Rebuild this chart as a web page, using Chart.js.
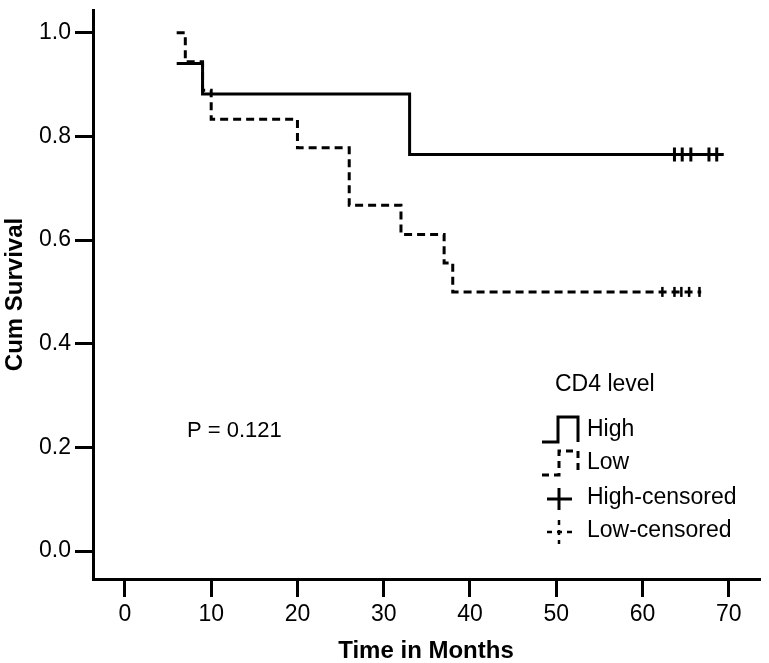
<!DOCTYPE html>
<html>
<head>
<meta charset="utf-8">
<script src="https://cdn.jsdelivr.net/npm/chart.js@4.4.1/dist/chart.umd.min.js"></script>
<style>
  html, body { margin: 0; padding: 0; background: #fff; }
  #contenedor { width: 769px; height: 663px; }
</style>
</head>
<body>
<div id="contenedor"><canvas id="graficoSupervivencia" width="769" height="663"></canvas></div>
<script>
// Curvas Kaplan-Meier por nivel de CD4
const tiemposAlto = [6, 9, 33, 69.2];
const supervivenciaAlto = [0.941, 0.882, 0.765, 0.765];
const tiemposBajo = [6, 7, 9, 10, 20, 26, 32, 37, 38, 66.8];
const supervivenciaBajo = [1.0, 0.944, 0.889, 0.833, 0.778, 0.667, 0.611, 0.556, 0.5, 0.5];

// Casos censurados
const censuradosAltoX = [63.7, 64.6, 65.6, 67.7, 68.6];
const censuradosAltoY = [0.765, 0.765, 0.765, 0.765, 0.765];
const censuradosBajoX = [62.3, 63.7, 64.5, 65.4, 66.6];
const censuradosBajoY = [0.5, 0.5, 0.5, 0.5, 0.5];

const ticksX = [0, 10, 20, 30, 40, 50, 60, 70];
const ticksY = [0, 0.2, 0.4, 0.6, 0.8, 1.0];

const tituloLeyenda = 'CD4 level';
const etiquetas = ['High', 'Low', 'High-censored', 'Low-censored'];
const textoP = 'P = 0.121';

const fuente = '"Liberation Sans", Arial, sans-serif';
Chart.defaults.font.family = fuente;
Chart.defaults.color = '#000';

const aPuntos = (xs, ys) => xs.map((x, i) => ({ x, y: ys[i] }));

const sinRelleno = (escala) => {
  escala.paddingTop = 0;
  escala.paddingBottom = 0;
  escala.paddingLeft = 0;
  escala.paddingRight = 0;
};

const leyendaPlugin = {
  id: 'leyendaKM',
  afterDraw(chart) {
    const ctx = chart.ctx;
    ctx.save();
    ctx.fillStyle = '#000';
    ctx.strokeStyle = '#000';
    ctx.textBaseline = 'middle';
    ctx.textAlign = 'left';

    ctx.font = '22px ' + fuente;
    ctx.fillText(textoP, 187, 431);

    ctx.font = '23px ' + fuente;
    ctx.fillText(tituloLeyenda, 555, 385);

    // High
    ctx.lineWidth = 3;
    ctx.setLineDash([]);
    ctx.beginPath();
    ctx.moveTo(542, 442);
    ctx.lineTo(558, 442);
    ctx.lineTo(558, 417);
    ctx.lineTo(578, 417);
    ctx.lineTo(578, 442);
    ctx.stroke();
    ctx.fillText(etiquetas[0], 587, 430);

    // Low
    ctx.setLineDash([7, 5]);
    ctx.beginPath();
    ctx.moveTo(542, 475);
    ctx.lineTo(559, 475);
    ctx.lineTo(559, 451);
    ctx.lineTo(578, 451);
    ctx.lineTo(578, 475);
    ctx.stroke();
    ctx.fillText(etiquetas[1], 587, 463);

    // High-censored
    ctx.setLineDash([]);
    ctx.beginPath();
    ctx.moveTo(547, 499);
    ctx.lineTo(572, 499);
    ctx.moveTo(559, 488);
    ctx.lineTo(559, 510);
    ctx.stroke();
    ctx.fillText(etiquetas[2], 587, 498);

    // Low-censored
    ctx.lineWidth = 2.5;
    ctx.setLineDash([5, 5]);
    ctx.beginPath();
    ctx.moveTo(547, 532);
    ctx.lineTo(572, 532);
    ctx.moveTo(559, 520);
    ctx.lineTo(559, 544);
    ctx.stroke();
    ctx.fillText(etiquetas[3], 587, 531);

    ctx.restore();
  }
};

const canvas = document.querySelector('#graficoSupervivencia');

new Chart(canvas, {
  type: 'scatter',
  data: {
    datasets: [
      {
        label: etiquetas[0],
        data: aPuntos(tiemposAlto, supervivenciaAlto),
        showLine: true,
        stepped: 'before',
        borderColor: '#000',
        borderWidth: 3,
        pointRadius: 0
      },
      {
        label: etiquetas[1],
        data: aPuntos(tiemposBajo, supervivenciaBajo),
        showLine: true,
        stepped: 'before',
        borderColor: '#000',
        borderWidth: 3,
        borderDash: [8, 5],
        pointRadius: 0
      },
      {
        label: etiquetas[2],
        data: aPuntos(censuradosAltoX, censuradosAltoY),
        pointStyle: 'cross',
        pointRadius: 7,
        borderColor: '#000',
        borderWidth: 3
      },
      {
        label: etiquetas[3],
        data: aPuntos(censuradosBajoX, censuradosBajoY),
        pointStyle: 'line',
        rotation: 90,
        pointRadius: 5,
        borderColor: '#000',
        borderWidth: 2.5
      }
    ]
  },
  options: {
    responsive: false,
    animation: false,
    devicePixelRatio: 1,
    layout: {
      padding: { top: 0, right: 4, left: 0, bottom: 0 }
    },
    plugins: {
      legend: { display: false },
      tooltip: { enabled: false }
    },
    scales: {
      x: {
        type: 'linear',
        min: -3.7,
        max: 73.5,
        afterFit(escala) {
          escala.height = 84;
          sinRelleno(escala);
        },
        afterBuildTicks(escala) { escala.ticks = ticksX.map((v) => ({ value: v })); },
        border: { display: true, color: '#000', width: 3 },
        grid: { drawOnChartArea: false, drawTicks: true, tickLength: 18, color: '#000', lineWidth: 3 },
        ticks: {
          autoSkip: false,
          maxRotation: 0,
          padding: 4,
          font: { size: 23 },
          callback: (valor) => String(valor)
        },
        title: {
          display: true,
          text: 'Time in Months',
          font: { size: 24, weight: 'bold', lineHeight: 1 },
          padding: { top: 0, bottom: 0 }
        }
      },
      y: {
        type: 'linear',
        min: -0.054,
        max: 1.044,
        afterFit(escala) {
          escala.width = 93;
          sinRelleno(escala);
        },
        afterBuildTicks(escala) { escala.ticks = ticksY.map((v) => ({ value: v })); },
        border: { display: true, color: '#000', width: 3 },
        grid: { drawOnChartArea: false, drawTicks: true, tickLength: 18, color: '#000', lineWidth: 3 },
        ticks: {
          autoSkip: false,
          padding: 4,
          font: { size: 23 },
          callback: (valor) => valor.toFixed(1)
        },
        title: {
          display: true,
          text: 'Cum Survival',
          font: { size: 24, weight: 'bold', lineHeight: 1.2 },
          padding: { top: 1, bottom: 0 }
        }
      }
    }
  },
  plugins: [leyendaPlugin]
});
</script>
</body>
</html>
